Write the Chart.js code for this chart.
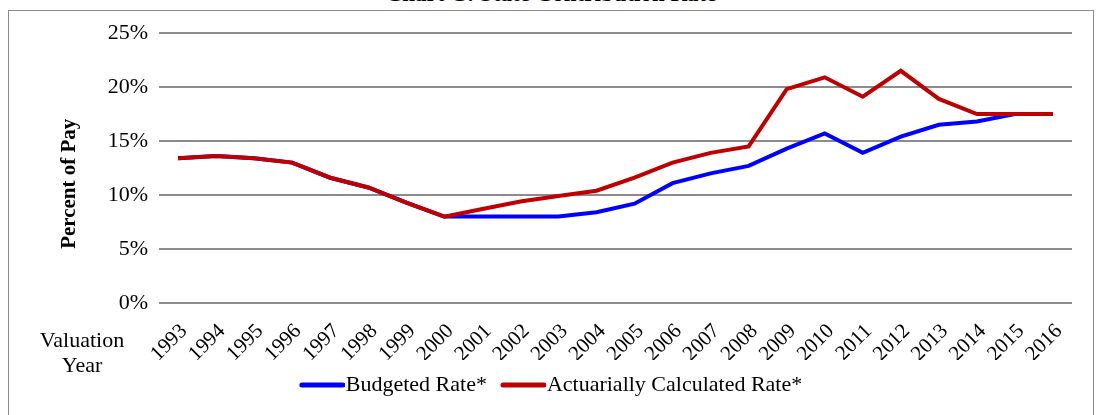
<!DOCTYPE html>
<html>
<head>
<meta charset="utf-8">
<script src="https://cdn.jsdelivr.net/npm/chart.js@4/dist/chart.umd.min.js"></script>
<style>
    html, body { margin: 0; padding: 0; background: #fff; overflow: hidden; }
    #wrap { position: relative; width: 1102px; height: 415px; }
    #frame { position: absolute; left: 8px; top: 10px; width: 1086px; height: 420px; border: 1px solid #8c8c8c; box-sizing: border-box; }
    #title { position: absolute; left: 0; width: 1102px; top: -19px; text-align: center; font: bold 23px "Liberation Serif", serif; color: #000; }
    #xlabel { position: absolute; left: 32px; width: 100px; top: 327px; text-align: center; font: 22px/25px "Liberation Serif", serif; color: #000; }
    #chart { position: absolute; left: 0; top: 0; }
</style>
</head>
<body>
<div id="wrap">
    <div id="frame"></div>
    <div id="title">Chart C: State Contribution Rate</div>
    <canvas id="chart" width="1102" height="415"></canvas>
    <div id="xlabel">Valuation<br>Year</div>
</div>
<script>
// Data ------------------------------------------------------------------------------

var YEARS = ['1993', '1994', '1995', '1996', '1997', '1998', '1999', '2000', '2001', '2002', '2003', '2004',
             '2005', '2006', '2007', '2008', '2009', '2010', '2011', '2012', '2013', '2014', '2015', '2016'];

var BUDGETED = [13.4, 13.6, 13.4, 13.0, 11.6, 10.7, 9.3, 8.0, 8.0, 8.0, 8.0, 8.4,
                9.2, 11.1, 12.0, 12.7, 14.3, 15.7, 13.9, 15.4, 16.5, 16.8, 17.5, 17.5];

var ACTUARIAL = [13.4, 13.6, 13.4, 13.0, 11.6, 10.7, 9.3, 8.0, 8.7, 9.4, 9.9, 10.4,
                 11.6, 13.0, 13.9, 14.5, 19.8, 20.9, 19.1, 21.5, 18.9, 17.5, 17.5, 17.5];

var Y_TICKS = [0, 5, 10, 15, 20, 25];

// Constants ------------------------------------------------------------------------------

var FONT_FAMILY = '"Liberation Serif", "Times New Roman", serif';
var LINE_WIDTH = 4;
var GRID_COLOR = '#8c8c8c';
var BLUE = '#0000ff';
var RED = '#c00000';

// Functions ------------------------------------------------------------------------------

// legend sample: a short thick line that runs right up to the label text
function makeLegendLine(color) {
    var canvas = document.createElement('canvas');
    canvas.width = 55;
    canvas.height = 8;
    var ctx = canvas.getContext('2d');
    ctx.strokeStyle = color;
    ctx.lineWidth = 5;
    ctx.lineCap = 'round';
    ctx.beginPath();
    ctx.moveTo(12, 4);
    ctx.lineTo(53, 4);
    ctx.stroke();
    return canvas;
}

// Chart ------------------------------------------------------------------------------

var context = document.getElementById('chart').getContext('2d');

var chart = new Chart(context, {
    type: 'line',
    data: {
        labels: YEARS,
        datasets: [{
            label: 'Budgeted Rate*',
            data: BUDGETED,
            borderColor: BLUE,
            backgroundColor: BLUE,
            borderWidth: LINE_WIDTH,
            pointRadius: 0,
            pointStyle: makeLegendLine(BLUE),
            tension: 0,
            order: 1
        }, {
            label: 'Actuarially Calculated Rate*',
            data: ACTUARIAL,
            borderColor: RED,
            backgroundColor: RED,
            borderWidth: LINE_WIDTH,
            pointRadius: 0,
            pointStyle: makeLegendLine(RED),
            tension: 0,
            order: 0
        }]
    },
    options: {
        responsive: false,
        animation: false,
        layout: { padding: { left: 30, right: 30, top: 33, bottom: 9 } },
        plugins: {
            tooltip: { enabled: false },
            legend: {
                position: 'bottom',
                labels: {
                    usePointStyle: true,
                    pointStyleWidth: 35,
                    padding: 14,
                    color: '#000',
                    font: { family: FONT_FAMILY, size: 22 },
                    sort: function (a, b) { return a.datasetIndex - b.datasetIndex; }
                }
            }
        },
        scales: {
            x: {
                offset: true,
                grid: { display: false },
                border: { display: false },
                ticks: {
                    minRotation: 45,
                    maxRotation: 45,
                    autoSkip: false,
                    padding: 8,
                    labelOffset: 6,
                    color: '#000',
                    font: { family: FONT_FAMILY, size: 21 }
                },
                afterFit: function (scale) { scale.height = 57; }
            },
            y: {
                min: 0,
                max: 25,
                border: { display: false },
                grid: { color: GRID_COLOR, lineWidth: 2, drawTicks: false },
                afterBuildTicks: function (scale) {
                    scale.ticks = Y_TICKS.map(function (v) { return { value: v }; });
                },
                ticks: {
                    padding: 11,
                    color: '#000',
                    font: { family: FONT_FAMILY, size: 22 },
                    callback: function (value) { return value + '%'; }
                },
                title: {
                    display: true,
                    text: 'Percent of Pay      ',
                    color: '#000',
                    padding: { top: 27, bottom: 0 },
                    font: { family: FONT_FAMILY, size: 21, weight: 'bold' }
                },
                afterFit: function (scale) { scale.width = 129; }
            }
        }
    }
});
</script>
</body>
</html>
